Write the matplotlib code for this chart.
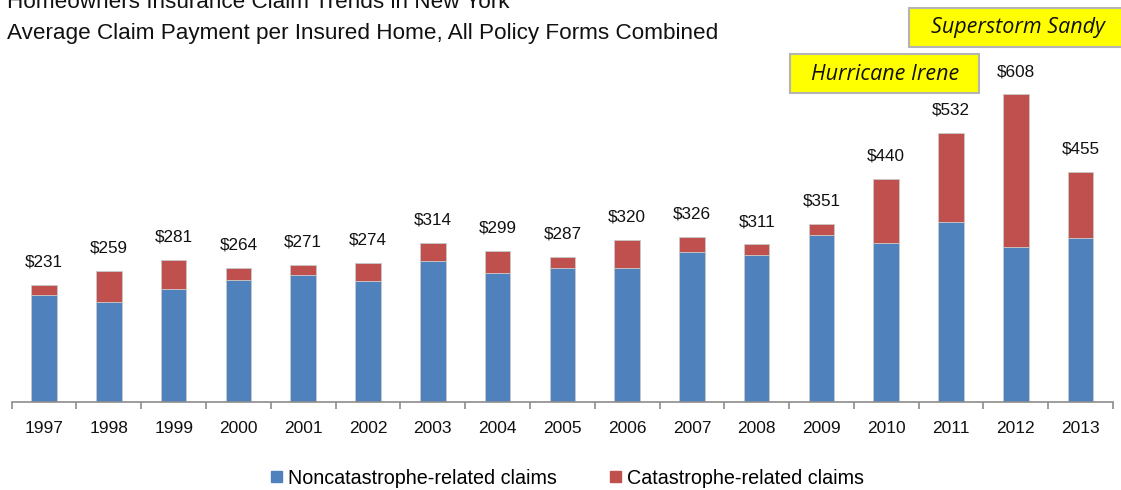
import matplotlib
matplotlib.use("Agg")
import matplotlib.pyplot as plt
from matplotlib.patches import Patch, Rectangle

years = ["1997", "1998", "1999", "2000", "2001", "2002", "2003", "2004", "2005",
         "2006", "2007", "2008", "2009", "2010", "2011", "2012", "2013"]
noncat = [211, 198, 223, 240, 251, 238, 279, 254, 264, 265, 296, 291, 329, 313, 356, 305, 323]
cat = [20, 61, 58, 24, 20, 36, 35, 45, 23, 55, 30, 20, 22, 127, 176, 303, 132]
totals = [231, 259, 281, 264, 271, 274, 314, 299, 287, 320, 326, 311, 351, 440, 532, 608, 455]
series_names = ["Noncatastrophe-related claims", "Catastrophe-related claims"]
events = [("Hurricane Irene", "2010"), ("Superstorm Sandy", "2012")]

plt.rcParams['font.family'] = ['Liberation Sans', 'DejaVu Sans']
W, H = 1121, 490
fig = plt.figure(figsize=(W / 100, H / 100), dpi=100)
ax = fig.add_axes([11.7 / W, (H - 401.7) / H, (1113 - 11.7) / W, 401.7 / H])

blue = "#4F81BD"
red = "#C0504D"
x = list(range(len(years)))
ax.bar(x, noncat, width=0.395, color=blue, edgecolor="#c8c8c8", linewidth=0.6, zorder=2)
ax.bar(x, cat, bottom=noncat, width=0.395, color=red, edgecolor="#c8c8c8", linewidth=0.6, zorder=2)

ax.set_xlim(-0.5, len(years) - 0.5)
ax.set_ylim(0, 794.5)

for i, t in enumerate(totals):
    ax.annotate(f"${t}", (i, t), xytext=(0, 11), textcoords="offset points",
                ha="center", va="bottom", fontsize=12.3, color="#111111")

for s in ["top", "right", "left"]:
    ax.spines[s].set_visible(False)
ax.spines["bottom"].set_color("#8c8c8c")
ax.spines["bottom"].set_linewidth(1.2)
ax.set_yticks([])
ax.set_xticks([i - 0.5 for i in range(len(years) + 1)], minor=False)
ax.set_xticklabels([])
ax.tick_params(axis="x", which="major", length=5, color="#8c8c8c", width=1.2, direction="out")
ax.set_xticks(x, minor=True)
ax.set_xticklabels(years, minor=True, fontsize=12.5, color="#111111")
ax.tick_params(axis="x", which="minor", length=0, pad=14)

fig.text(7 / W, 1 - 3 / H, "Homeowners Insurance Claim Trends in New York",
         fontsize=16.2, va="center", ha="left", color="#111111")
fig.text(7 / W, 1 - 34 / H, "Average Claim Payment per Insured Home, All Policy Forms Combined",
         fontsize=16.2, va="center", ha="left", color="#111111")

# event boxes
boxes = [(790, 54, 189, 39, 885, 74), (909, 8, 230, 39, 1018, 28)]
for (label, _), (bx, by, bw, bh, tx, ty) in zip(events, boxes):
    fig.patches.append(Rectangle((bx / W, 1 - (by + bh) / H), bw / W, bh / H,
                                 transform=fig.transFigure, fc="#FFFF00", ec="#b4b4b4",
                                 lw=1.5, zorder=5))
    fig.text(tx / W, 1 - ty / H, label, fontsize=15.5, style="italic", family="Open Sans",
             ha="center", va="center", color="#111111", zorder=6)

handles = [Patch(color=blue), Patch(color=red)]
fig.legend(handles, series_names, loc="center", bbox_to_anchor=(0.506, 1 - 478 / H),
           ncol=2, frameon=False, fontsize=14.2, handlelength=0.55, handleheight=0.55,
           handletextpad=0.3, columnspacing=2.7)

fig.savefig("out.png", dpi=100)
